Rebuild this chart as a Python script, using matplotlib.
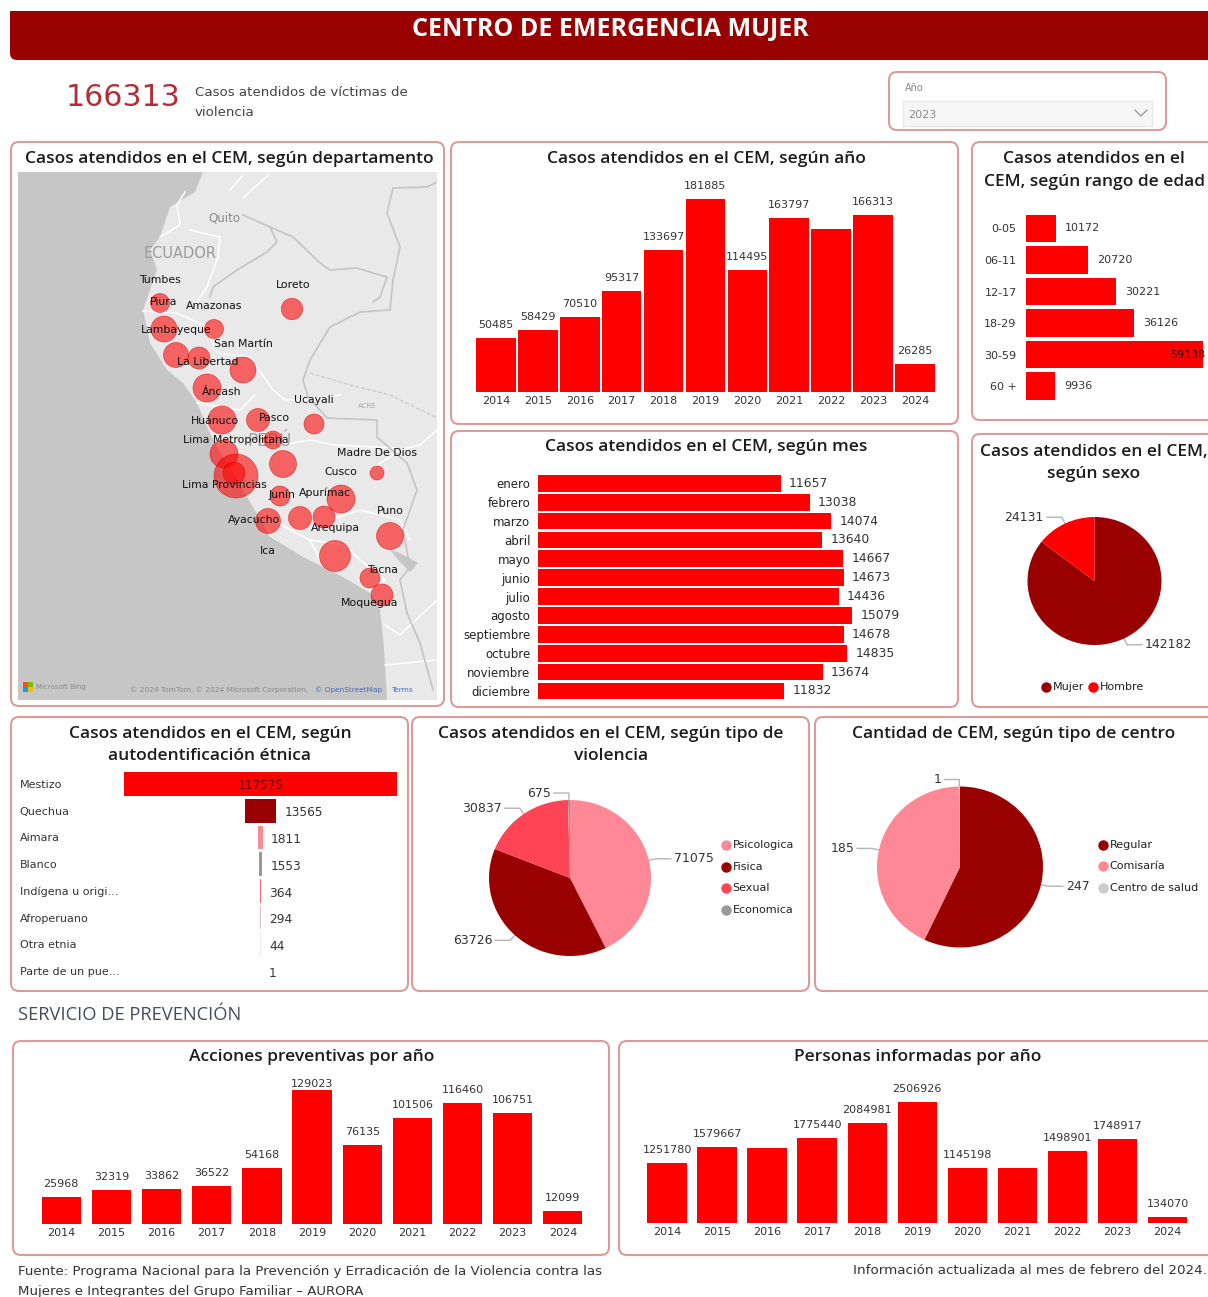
import numpy as np
import matplotlib
matplotlib.use("Agg")
import matplotlib.pyplot as plt
from matplotlib.patches import FancyBboxPatch, Rectangle, Polygon

W, H = 1208, 1297

# datos
years = ["2014", "2015", "2016", "2017", "2018", "2019", "2020", "2021", "2022", "2023", "2024"]
casos_anio = [50485, 58429, 70510, 95317, 133697, 181885, 114495, 163797, 153900, 166313, 26285]
casos_anio_lab = ["50485", "58429", "70510", "95317", "133697", "181885", "114495", "163797", "", "166313", "26285"]

edades = ["0-05", "06-11", "12-17", "18-29", "30-59", "60 +"]
casos_edad = [10172, 20720, 30221, 36126, 59138, 9936]

meses = ["enero", "febrero", "marzo", "abril", "mayo", "junio", "julio", "agosto",
         "septiembre", "octubre", "noviembre", "diciembre"]
casos_mes = [11657, 13038, 14074, 13640, 14667, 14673, 14436, 15079, 14678, 14835, 13674, 11832]

sexo = ["Mujer", "Hombre"]
casos_sexo = [142182, 24131]
colores_sexo = ["#990000", "#ff0000"]

etnias = ["Mestizo", "Quechua", "Aimara", "Blanco", "Indígena u origi...", "Afroperuano", "Otra etnia", "Parte de un pue..."]
casos_etnia = [117575, 13565, 1811, 1553, 364, 294, 44, 1]
colores_etnia = ["#ff0000", "#990000", "#ff8896", "#999999", "#f0707c", "#d8b8d8", "#f6e8f0", "#ffffff"]

violencia = ["Psicologica", "Fisica", "Sexual", "Economica"]
casos_violencia = [71075, 63726, 30837, 675]
colores_violencia = ["#ff8896", "#990000", "#ff4455", "#999999"]

centros = ["Regular", "Comisaría", "Centro de salud"]
cant_centros = [247, 185, 1]
colores_centros = ["#990000", "#ff8896", "#cccccc"]

acciones = [25968, 32319, 33862, 36522, 54168, 129023, 76135, 101506, 116460, 106751, 12099]
personas = [1251780, 1579667, 1568000, 1775440, 2084981, 2506926, 1145198, 1146000, 1498901, 1748917, 134070]
personas_lab = ["1251780", "1579667", "", "1775440", "2084981", "2506926", "1145198", "", "1498901", "1748917", "134070"]

# mapa: posiciones en coordenadas del mapa
burbuja_x = [160, 164, 214, 292, 176, 199, 243, 207, 222, 258, 314, 273, 224, 236, 234, 283, 377, 280, 341, 268, 300, 324, 390, 335, 370, 382]
burbuja_y = [303, 329, 329, 309, 355, 358, 370, 388, 420, 420, 424, 440, 454, 476, 473, 464, 473, 496, 499, 521, 518, 517, 536, 556, 578, 595]
burbuja_r = [9.5, 13, 9.5, 10.7, 12.5, 11, 13, 14, 14, 11.5, 10, 9, 14, 22, 11, 13.5, 7, 10, 14, 12.5, 11.5, 11, 13.5, 15.5, 10, 11]

dptos = ["Tumbes", "Piura", "Amazonas", "Loreto", "Lambayeque", "San Martín", "La Libertad", "Áncash", "Ucayali",
         "Huánuco", "Pasco", "Lima Metropolitana", "Madre De Dios", "Cusco", "Lima Provincias", "Junín", "Apurímac",
         "Ayacucho", "Arequipa", "Puno", "Ica", "Tacna", "Moquegua"]
dpto_x = [160, 164, 214, 293, 176, 243, 208, 222, 314, 215, 274, 236, 377, 341, 224, 282, 325, 254, 335, 390, 268, 382, 370]
dpto_y = [280, 302, 306, 285, 330, 344, 362, 392, 400, 421, 418, 440, 453, 472, 485, 495, 493, 520, 528, 511, 551, 570, 603]

costa = [(203, 172), (195, 192), (170, 207), (160, 237), (150, 250), (157, 270), (150, 290), (143, 310), (150, 343),
         (167, 370), (183, 383), (197, 403), (207, 427), (217, 447), (237, 480), (253, 507), (270, 537), (303, 557),
         (343, 577), (370, 593), (380, 610), (383, 637), (385, 663), (387, 700)]
lineas_blancas = [
    [(185, 192), (177, 205), (180, 225), (160, 237)],
    [(190, 230), (220, 237), (218, 257), (207, 287), (195, 305)],
    [(143, 311), (177, 313), (207, 327)],
    [(207, 327), (217, 353), (250, 357), (273, 390), (285, 400), (300, 400), (340, 395)],
    [(197, 403), (240, 410), (255, 395)],
    [(255, 430), (280, 445), (310, 440), (335, 445), (395, 448)],
    [(260, 510), (290, 530), (310, 540), (320, 560)],
    [(330, 520), (360, 510), (400, 520), (410, 540)],
    [(370, 470), (400, 450), (420, 445), (437, 430)],
    [(310, 540), (345, 545), (360, 560), (385, 580), (370, 590)],
    [(385, 625), (400, 635), (437, 600)],
    [(385, 665), (437, 660)],
    [(230, 190), (243, 175)],
    [(243, 198), (268, 175)],
]
fronteras = [
    [(243, 215), (270, 227), (277, 242), (267, 252), (237, 270), (213, 287), (210, 297)],
    [(270, 227), (293, 237), (320, 263), (330, 270), (357, 268), (373, 273), (387, 277), (380, 297), (373, 302)],
    [(390, 310), (393, 280), (400, 247), (387, 213), (393, 188), (427, 187), (437, 182)],
    [(390, 310), (360, 312), (330, 327), (310, 360), (303, 380), (308, 397), (327, 418), (377, 420), (377, 437),
     (407, 463), (417, 490), (403, 530), (410, 567), (400, 580), (407, 613), (420, 643), (433, 690)],
]
acre = [(310, 373), (350, 385), (390, 395), (437, 418)]
titicaca = [(390, 550), (400, 553), (418, 563), (410, 572), (400, 562)]

plt.rcParams["font.family"] = "DejaVu Sans"
fig = plt.figure(figsize=(W / 100, H / 100), dpi=100, facecolor="white")

bg = fig.add_axes([0, 0, 1, 1], zorder=0)
bg.set_xlim(0, W)
bg.set_ylim(H, 0)
bg.axis("off")

BORDE = "#dc9a9a"
TXT = "#333333"
TIT = "Open Sans"


def px_axes(x0, y0, x1, y1):
    ax = fig.add_axes([x0 / W, 1 - y1 / H, (x1 - x0) / W, (y1 - y0) / H], zorder=2)
    ax.patch.set_alpha(0)
    for s in ax.spines.values():
        s.set_visible(False)
    ax.tick_params(length=0)
    return ax


def panel(x0, y0, x1, y1):
    bg.add_patch(FancyBboxPatch((x0, y0), x1 - x0, y1 - y0, boxstyle="round,pad=0,rounding_size=8",
                                fc="white", ec=BORDE, lw=1.5))


def titulo(x, y, lineas):
    for i, t in enumerate(lineas):
        bg.text(x, y + 1 + i * 22.5, t, ha="center", va="center", family=TIT, weight="semibold",
                fontsize=12.5, color="#1c1c1c")


def columnas(x0, y0, x1, y1, valores, ymax, ancho, etiquetas=None, pad=5.8):
    ax = px_axes(x0, y0, x1, y1)
    pos = np.arange(len(years))
    b = ax.bar(pos, valores, width=ancho, color="#ff0000")
    ax.set_xlim(-0.5, len(years) - 0.5)
    ax.set_ylim(0, ymax)
    ax.set_xticks(pos, years, fontsize=8, color=TXT)
    ax.set_yticks([])
    ax.tick_params(axis="x", pad=3)
    if etiquetas is None:
        etiquetas = [str(v) for v in valores]
    return ax, ax.bar_label(b, labels=etiquetas, padding=pad, fontsize=8, color=TXT)


def torta(cx, cy, rx, ry, valores, colores, etiquetas, fs=9):
    ax = px_axes(cx - rx, cy - ry, cx + rx, cy + ry)
    wedges, _ = ax.pie(valores, colors=colores, startangle=90, counterclock=False, radius=1)
    ax.set_aspect("auto")
    ax.set_xlim(-1, 1)
    ax.set_ylim(-1, 1)
    for w, lab in zip(wedges, etiquetas):
        a = np.deg2rad((w.theta1 + w.theta2) / 2)
        ex, ey = cx + rx * np.cos(a), cy - ry * np.sin(a)
        mx, my = ex + 7 * np.cos(a), ey - 7 * np.sin(a)
        lado = 1 if ex > cx else -1
        bg.plot([ex, mx, mx + lado * 15], [ey, my, my], color="#b5b5b5", lw=1)
        bg.text(mx + lado * 18, my, lab, ha="left" if lado > 0 else "right", va="center", fontsize=fs, color=TXT)


def leyenda(x, ys, nombres, colores):
    for y, n, c in zip(ys, nombres, colores):
        bg.plot([x], [y], "o", ms=6.5, color=c)
        bg.text(x + 7, y, n, ha="left", va="center", fontsize=8, color="#222222")


# cabecera
bg.add_patch(FancyBboxPatch((10, 11), W, 49, boxstyle="round,pad=0,rounding_size=7", fc="#990000", ec="none"))
bg.add_patch(Rectangle((10, 11), W, 20, fc="#990000", ec="none"))
bg.text(610, 29, "CENTRO DE EMERGENCIA MUJER", ha="center", va="center", color="white", family=TIT,
        weight="bold", fontsize=18)

# kpi y filtro
bg.text(123, 97, "166313", ha="center", va="center", fontsize=21.6, color="#b03035")
bg.text(195, 92, "Casos atendidos de víctimas de", va="center", fontsize=9.6, color="#444444")
bg.text(195, 113, "violencia", va="center", fontsize=9.6, color="#444444")
panel(889, 72, 1166, 130)
bg.text(905, 88, "Año", va="center", fontsize=7, color="#888888")
bg.add_patch(Rectangle((903, 101), 249, 25, fc="#f6f6f6", ec="#e8e8e8", lw=1))
bg.text(908, 115, "2023", va="center", fontsize=8, color="#888888")
bg.plot([1135, 1141, 1147], [110, 116, 110], color="#888888", lw=0.8)

# paneles
panel(11, 142, 444, 706)
panel(451, 142, 958, 424)
panel(972, 142, 1225, 420)
panel(451, 431, 958, 707)
panel(972, 434, 1225, 707)
panel(11, 717, 408, 991)
panel(412, 717, 809, 991)
panel(815, 717, 1225, 991)
panel(13, 1041, 609, 1255)
panel(619, 1041, 1225, 1255)

titulo(229, 158, ["Casos atendidos en el CEM, según departamento"])
titulo(706, 158, ["Casos atendidos en el CEM, según año"])
titulo(1094, 158, ["Casos atendidos en el", "CEM, según rango de edad"])
titulo(706, 446, ["Casos atendidos en el CEM, según mes"])
titulo(1094, 451, ["Casos atendidos en el CEM,", "según sexo"])
titulo(210, 733, ["Casos atendidos en el CEM, según", "autodentificación étnica"])
titulo(611, 733, ["Casos atendidos en el CEM, según tipo de", "violencia"])
titulo(1014, 733, ["Cantidad de CEM, según tipo de centro"])
titulo(312, 1056, ["Acciones preventivas por año"])
titulo(918, 1056, ["Personas informadas por año"])

# mapa
m = px_axes(18, 172, 437, 700)
m.set_xlim(18, 437)
m.set_ylim(700, 172)
m.set_xticks([])
m.set_yticks([])
m.patch.set_alpha(1)
m.patch.set_facecolor("#e9e9e9")
m.add_patch(Polygon([(18, 172)] + costa + [(18, 700)], fc="#c6c6c6", ec="none"))
for l in lineas_blancas:
    xs, ys = zip(*l)
    m.plot(xs, ys, color="white", lw=1.1)
for l in fronteras:
    xs, ys = zip(*l)
    m.plot(xs, ys, color="#c4c4c4", lw=1.2)
xs, ys = zip(*acre)
m.plot(xs, ys, color="#c8c8c8", lw=0.8, ls="--")
m.add_patch(Polygon(titicaca, fc="#c6c6c6", ec="none"))
m.text(224, 218, "Quito", ha="center", va="center", fontsize=8.5, color="#8a8a8a")
m.text(180, 253, "ECUADOR", ha="center", va="center", fontsize=10.5, color="#9a9a9a")
m.text(270, 441, "PERÚ", ha="center", va="center", fontsize=12, color="#a0a0a0")
m.text(367, 406, "ACRE", ha="center", va="center", fontsize=5, color="#aaaaaa")
m.scatter(burbuja_x, burbuja_y, s=(2 * np.array(burbuja_r) * 0.72) ** 2, color="#ff0000", alpha=0.58,
          edgecolors="#d00000", linewidths=0.5, zorder=3)
for n, x, y in zip(dptos, dpto_x, dpto_y):
    m.text(x, y, n, ha="center", va="center", fontsize=7.8, color="#111111", zorder=4)
m.add_patch(Rectangle((23, 682), 5, 5, fc="#f25022", ec="none"))
m.add_patch(Rectangle((28, 682), 5, 5, fc="#7fba00", ec="none"))
m.add_patch(Rectangle((23, 687), 5, 5, fc="#00a4ef", ec="none"))
m.add_patch(Rectangle((28, 687), 5, 5, fc="#ffb900", ec="none"))
m.text(36, 687, "Microsoft Bing", va="center", fontsize=5, color="#8a8a8a")
m.text(130, 689.5, "© 2024 TomTom, © 2024 Microsoft Corporation,", va="center", fontsize=5.3, color="#8a8a8a")
m.text(315, 689.5, "© OpenStreetMap", va="center", fontsize=5.3, color="#4a6ac0")
m.text(391, 689.5, "Terms", va="center", fontsize=5.3, color="#4a6ac0")

# casos por año
columnas(474.9, 179.8, 936, 391.7, casos_anio, 200000, 0.947, casos_anio_lab)

# rango de edad
ax = px_axes(1025.7, 212.6, 1208, 402)
ax.barh(edades, casos_edad, height=0.875, color="#ff0000")
ax.set_ylim(len(edades) - 0.5, -0.5)
ax.set_xlim(0, 60900)
ax.set_xticks([])
ax.tick_params(axis="y", labelsize=8, labelcolor=TXT, pad=6.5)
for i, v in enumerate(casos_edad):
    if v == max(casos_edad):
        ax.annotate(str(v), (v, i), xytext=(2, 0), textcoords="offset points", ha="right", va="center",
                    fontsize=8, color="#330000")
    else:
        ax.annotate(str(v), (v, i), xytext=(6.5, 0), textcoords="offset points", va="center", fontsize=8, color=TXT)

# meses
ax = px_axes(538, 473.9, 920, 700.4)
ax.barh(meses, casos_mes, height=0.885, color="#ff0000")
ax.set_ylim(len(meses) - 0.5, -0.5)
ax.set_xlim(0, 18344)
ax.set_xticks([])
ax.tick_params(axis="y", labelsize=8.5, labelcolor="#222222", pad=5.5)
for i, v in enumerate(casos_mes):
    ax.annotate(str(v), (v, i), xytext=(6, 0), textcoords="offset points", va="center", fontsize=8.9, color=TXT)

# sexo
torta(1094.5, 581, 67, 64, casos_sexo, colores_sexo, [str(v) for v in casos_sexo])
leyenda(1046, [687], sexo[:1], colores_sexo[:1])
leyenda(1093, [687], sexo[1:], colores_sexo[1:])

# etnia (embudo)
ax = px_axes(124, 770.6, 397, 984.4)
med = np.array(casos_etnia) / 2
ax.barh(etnias, casos_etnia, left=-med, height=0.89, color=colores_etnia)
ax.set_ylim(len(etnias) - 0.5, -0.5)
ax.set_xlim(-58787.5, 58787.5)
ax.set_xticks([])
ax.tick_params(axis="y", labelsize=8, labelcolor="#333333", pad=75)
for t in ax.get_yticklabels():
    t.set_ha("left")
for i, v in enumerate(casos_etnia):
    if i == 0:
        ax.text(0, i + 0.05, str(v), ha="center", va="center", fontsize=8.7, color="#660000")
    else:
        ax.annotate(str(v), (v / 2, i + 0.08), xytext=(6, 0), textcoords="offset points", va="center",
                    fontsize=8.7, color=TXT)

# violencia y centros
torta(570, 878, 81, 78, casos_violencia, colores_violencia, [str(v) for v in casos_violencia])
leyenda(725.5, [845, 867, 888, 910], violencia, colores_violencia)
torta(960, 867, 83, 80.5, cant_centros, colores_centros, [str(v) for v in cant_centros])
leyenda(1102.6, [845, 866, 888], centros, colores_centros)

# servicio de prevencion
bg.text(18, 1015, "SERVICIO DE PREVENCIÓN", va="center", family=TIT, fontsize=13.2, color="#444c5c")
ax, labs = columnas(36.2, 1078.6, 587.9, 1223.7, acciones, 140000, 0.784)
labs[5].xyann = (0, 1)
columnas(642, 1093, 1192.6, 1223.3, personas, 2700000, 0.787, personas_lab)

# pie de pagina
bg.text(18, 1271, "Fuente: Programa Nacional para la Prevención y Erradicación de la Violencia contra las",
        va="center", fontsize=9.6, color="#333333")
bg.text(18, 1292, "Mujeres e Integrantes del Grupo Familiar – AURORA", va="center", fontsize=9.6, color="#333333")
bg.text(1207, 1271, "Información actualizada al mes de febrero del 2024.", ha="right", va="center",
        fontsize=9.7, color="#333333")

plt.savefig("out.png", dpi=100)
